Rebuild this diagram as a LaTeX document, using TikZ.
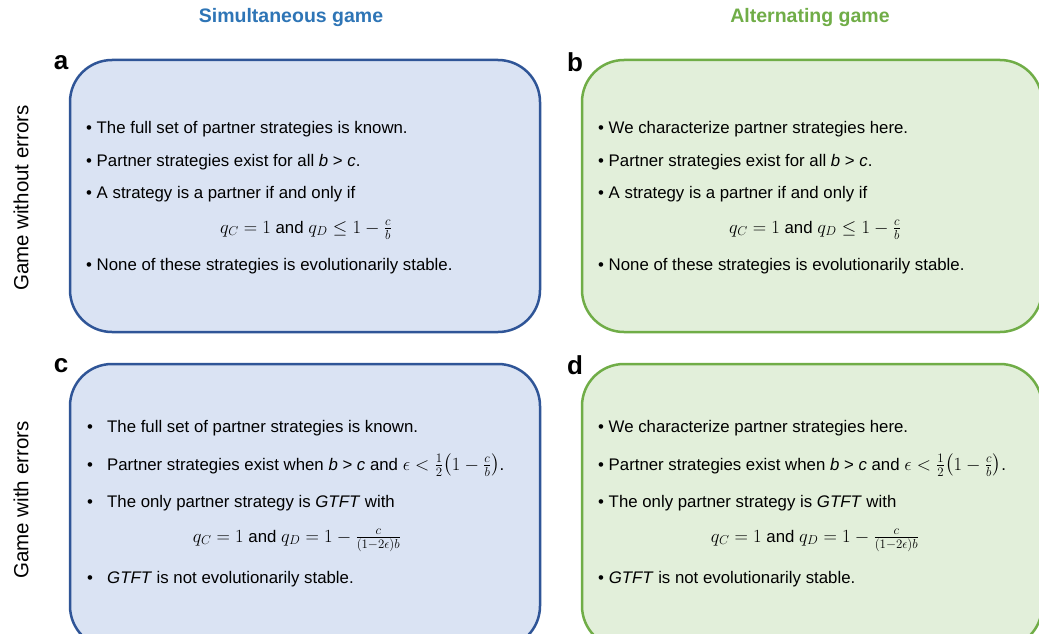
\documentclass[tikz,border=0pt]{standalone}
\usepackage{amsmath}
\usepackage{fontspec}
\setmainfont{Liberation Sans}
\definecolor{simblue}{HTML}{2E75B6}
\definecolor{edgeblue}{HTML}{2F5597}
\definecolor{boxblue}{HTML}{DAE3F3}
\definecolor{altgreen}{HTML}{70AD47}
\definecolor{boxgreen}{HTML}{E2EFDA}
% math set a little larger than the surrounding text
\newcommand{\mth}[1]{\scalebox{1.075}{\fontsize{17.28}{20}\selectfont$#1$}}
\tikzset{
  panel/.style={rectangle, rounded corners=42pt, line width=2.5pt, inner sep=0pt},
  simpanel/.style={panel, draw=edgeblue, fill=boxblue},
  altpanel/.style={panel, draw=altgreen, fill=boxgreen},
  body/.style={anchor=base west, inner sep=0pt, font=\fontsize{16.8}{20}\selectfont},
  formula/.style={anchor=base, inner sep=0pt, font=\fontsize{16.8}{20}\selectfont},
  tag/.style={inner sep=0pt, font=\fontsize{26}{30}\selectfont\bfseries},
  header/.style={inner sep=0pt, font=\fontsize{19.5}{23}\selectfont\bfseries},
  rowlabel/.style={inner sep=0pt, rotate=90, font=\fontsize{20.5}{24}\selectfont}
}
\begin{document}
\begin{tikzpicture}[x=1pt, y=-1pt]
\useasboundingbox (0,0) rectangle (1039,634);
\clip (0,0) rectangle (1039,634);
\fill[white] (0,0) rectangle (1039,634);

% column and row headings
\node[header, text=simblue] (hsim) at (291,18) {Simultaneous game};
\node[header, text=altgreen] (halt) at (810,18) {Alternating game};
\node[rowlabel] (rnoerr) at (21,198) {Game without errors};
\node[rowlabel] (rerr) at (21,500) {Game with errors};

% panels
\node[simpanel, minimum width=470pt, minimum height=272pt] (pa) at (305,196) {};
\node[altpanel, minimum width=460pt, minimum height=272pt] (pb) at (812,196) {};
\node[simpanel, minimum width=470pt, minimum height=284pt] (pc) at (305,506) {};
\node[altpanel, minimum width=460pt, minimum height=284pt] (pd) at (812,506) {};

% panel letters
\node[tag] (la) at (61,63) {a};
\node[tag] (lb) at (575,62) {b};
\node[tag] (lc) at (61,366) {c};
\node[tag] (ld) at (575,365) {d};

% panel a
\node[body] (a1) at (86,133) {\textbullet\ The full set of partner strategies is known.};
\node[body] (a2) at (86,166) {\textbullet\ Partner strategies exist for all \textit{b} > \textit{c}.};
\node[body] (a3) at (86,198) {\textbullet\ A strategy is a partner if and only if};
\node[formula] (a4) at (306,233) {\mth{q_C = 1} and \mth{q_D \le 1-\frac{c}{b}}};
\node[body] (a5) at (86,270) {\textbullet\ None of these strategies is evolutionarily stable.};

% panel b
\node[body] (b1) at (598,133) {\textbullet\ We characterize partner strategies here.};
\node[body] (b2) at (598,166) {\textbullet\ Partner strategies exist for all \textit{b} > \textit{c}.};
\node[body] (b3) at (598,198) {\textbullet\ A strategy is a partner if and only if};
\node[formula] (b4) at (815,233) {\mth{q_C = 1} and \mth{q_D \le 1-\frac{c}{b}}};
\node[body] (b5) at (598,270) {\textbullet\ None of these strategies is evolutionarily stable.};

% panel c
\node[body] (cb1) at (87,432) {\textbullet};
\node[body] (c1) at (107,432) {The full set of partner strategies is known.};
\node[body] (cb2) at (87,470) {\textbullet};
\node[body] (c2) at (107,470) {Partner strategies exist when \textit{b} > \textit{c} and \mth{\epsilon < \frac{1}{2}\!\left(1-\frac{c}{b}\right)}.};
\node[body] (cb3) at (87,507) {\textbullet};
\node[body] (c3) at (107,507) {The only partner strategy is \textit{GTFT} with};
\node[formula] (c4) at (297,542) {\mth{q_C = 1} and \mth{q_D = 1-\frac{c}{(1-2\epsilon)b}}};
\node[body] (cb5) at (87,583) {\textbullet};
\node[body] (c5) at (107,583) {\textit{GTFT} is not evolutionarily stable.};

% panel d
\node[body] (d1) at (598,432) {\textbullet\ We characterize partner strategies here.};
\node[body] (d2) at (598,470) {\textbullet\ Partner strategies exist when \textit{b} > \textit{c} and \mth{\epsilon < \frac{1}{2}\!\left(1-\frac{c}{b}\right)}.};
\node[body] (d3) at (598,507) {\textbullet\ The only partner strategy is \textit{GTFT} with};
\node[formula] (d4) at (815,542) {\mth{q_C = 1} and \mth{q_D = 1-\frac{c}{(1-2\epsilon)b}}};
\node[body] (d5) at (598,583) {\textbullet\ \textit{GTFT} is not evolutionarily stable.};
\end{tikzpicture}
\end{document}
